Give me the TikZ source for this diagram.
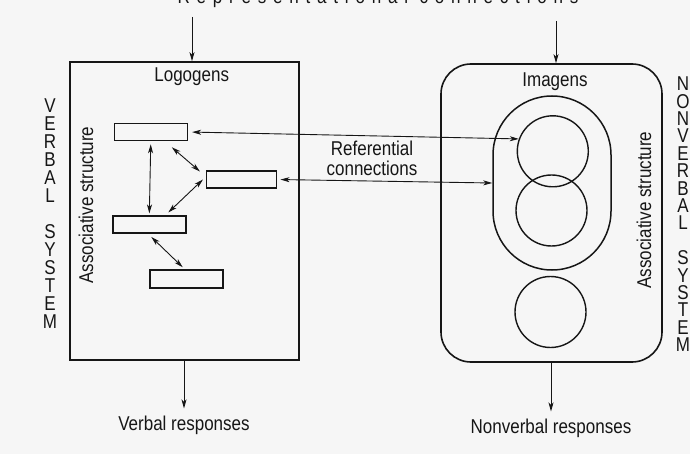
\documentclass[tikz,border=0pt]{standalone}
\usepackage{fontspec}
\setmainfont[FakeStretch=0.85]{Liberation Sans}
\newfontfamily\spacedfont[FakeStretch=0.85,LetterSpace=34]{Liberation Sans}
\usetikzlibrary{arrows.meta, positioning, calc}
\definecolor{paper}{RGB}{246,246,246}
\definecolor{ink}{RGB}{22,22,22}

\begin{document}
\begin{tikzpicture}[x=1pt, y=-1pt,
    >={Stealth[length=9pt, width=5pt, inset=2.5pt]},
    every node/.style={inner sep=0pt, text=ink},
    lbl/.style={font=\fontsize{20}{20}\selectfont},
    sysbox/.style={draw=ink, line width=1.6pt},
    logo/.style={draw=ink, line width=1.5pt, minimum width=73pt, minimum height=17pt},
    imagen/.style={draw=ink, line width=1.4pt, circle, minimum size=71pt},
    arr/.style={draw=ink, line width=0.9pt}
]

    % Fundo
    \fill[paper] (0,0) rectangle (690,454);
    \useasboundingbox (0,0) rectangle (690,454);

    % Titulo cortado no topo
    \node[lbl, anchor=base] (repconn) at (378,3.5) {\spacedfont Representational connections};
    \coordinate (repL) at (192,17);
    \coordinate (repR) at (556,21);

    % Sistema verbal
    \node[sysbox, minimum width=229pt, minimum height=298pt] (verbal) at (184.5,211) {};
    \node[lbl] (logogens) at (191.7,77) {Logogens};
    \node[lbl, rotate=90] (assocL) at (86,205) {Associative structure};
    \node[lbl, align=center, anchor=north, font=\fontsize{20}{18}\selectfont] (vsys) at (50,99)
        {V\\E\\R\\B\\A\\L\\[18pt]S\\Y\\S\\T\\E\\M};

    \node[logo] (logo1) at (150.8,132) {};
    \node[logo, minimum width=70pt] (logo2) at (241.7,179.5) {};
    \node[logo] (logo3) at (149.3,224.7) {};
    \node[logo, minimum height=18pt] (logo4) at (186.7,279) {};

    % Ligacoes associativas
    \draw[arr, <->, shorten <=3pt, shorten >=2pt] (logo1.south) -- (logo3.north);
    \draw[arr, <->] ([xshift=21pt, yshift=-6pt]logo1.south) -- ([xshift=-6pt, yshift=8pt]logo2.west);
    \draw[arr, <->] ([xshift=-3pt]logo2.west) -- ([xshift=19pt, yshift=3pt]logo3.north);
    \draw[arr, <->] ([xshift=2pt, yshift=-3pt]logo3.south) -- ([xshift=-4pt, yshift=2pt]logo4.north);

    % Sistema nao verbal
    \node[sysbox, rounded corners=30pt, minimum width=221pt, minimum height=298pt] (nonverbal) at (551.5,213) {};
    \node[lbl] (imagens) at (555,82) {Imagens};
    \node[lbl, rotate=90] (assocR) at (644,210) {Associative structure};
    \node[lbl, align=center, anchor=north, font=\fontsize{20}{17.4}\selectfont] (nvsys) at (683,76.7)
        {N\\O\\N\\V\\E\\R\\B\\A\\L\\[17.4pt]S\\Y\\S\\T\\E\\M};

    \node[draw=ink, line width=1.5pt, rounded corners=59pt, minimum width=118pt, minimum height=174pt] (stadium) at (552,183) {};
    \node[imagen] (img1) at (552.8,151.3) {};
    \node[imagen] (img2) at (551.5,210.5) {};
    \node[imagen] (img3) at (550.5,312) {};

    % Ligacoes referenciais
    \node[lbl, align=center] (refconn) at (372,158) {Referential\\connections};
    \draw[arr, <->, shorten <=4pt] (logo1.east) -- (img1.160);
    \draw[arr, <->, shorten <=3pt] (logo2.east) -- (stadium.west);

    % Entradas e respostas
    \draw[arr, ->] (repL) -- (repL |- verbal.north);
    \draw[arr, ->] (repR) -- (repR |- nonverbal.north);

    \node[lbl] (vresp) at (184,425) {Verbal responses};
    \node[lbl] (nvresp) at (551,428) {Nonverbal responses};
    \draw[arr, ->, shorten >=7pt] (verbal.south -| vresp.north) -- (vresp.north);
    \draw[arr, ->, shorten >=7pt] (nonverbal.south -| nvresp.north) -- (nvresp.north);

\end{tikzpicture}
\end{document}
